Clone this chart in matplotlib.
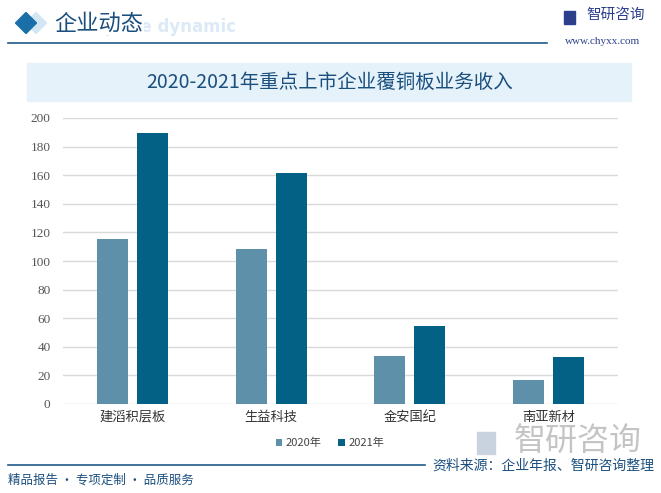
import numpy as np
import matplotlib.pyplot as plt
from matplotlib.patches import Rectangle, Polygon

plt.rcParams['font.family'] = ['Noto Sans CJK SC', 'DejaVu Sans']

companies = ['建滔积层板', '生益科技', '金安国纪', '南亚新材']
rev_2020 = [115.5, 108.5, 33.6, 16.8]
rev_2021 = [189.5, 161.5, 54.8, 32.9]
years = ['2020年', '2021年']
yticks = [0, 20, 40, 60, 80, 100, 120, 140, 160, 180, 200]

c2020 = '#5e91a9'
c2021 = '#036185'
dark_blue = '#1b4f7e'

fig = plt.figure(figsize=(6.61, 4.93), dpi=100)
W, H = 661, 493

def fx(px):
    return px / W

def fy(py):
    return 1 - py / H

def diamond(cx, cy, r, color):
    pts = [[fx(cx - r), fy(cy)], [fx(cx), fy(cy - r)], [fx(cx + r), fy(cy)], [fx(cx), fy(cy + r)]]
    fig.patches.append(Polygon(pts, closed=True, transform=fig.transFigure, color=color))

# header
diamond(36, 23, 10.5, '#d3e6f4')
diamond(26, 23, 10.5, '#1a6fa8')
fig.text(fx(236), fy(27), 'Enterprise dynamic', fontsize=12, color='#dbeaf6', weight='bold',
         ha='right', va='center', family='DejaVu Sans')
fig.text(fx(54), fy(23), '企业动态', fontsize=16, color=dark_blue, ha='left', va='center',
         bbox=dict(facecolor='white', edgecolor='none', pad=0.5))
fig.add_artist(plt.Line2D([fx(8), fx(547)], [fy(43), fy(43)], color='#1f5b8c', lw=1.2))
fig.patches.append(Rectangle((fx(564), fy(24)), fx(11), 13 / H, transform=fig.transFigure,
                             color='#2b3f8c'))
fig.text(fx(586), fy(15), '智研咨询', fontsize=10.5, color='#2b3f8c', ha='left', va='center')
fig.text(fx(565), fy(42), 'www.chyxx.com', fontsize=8, color='#2b3f8c', ha='left', va='center',
         family='Liberation Serif')

# title band
fig.patches.append(Rectangle((fx(27), fy(101)), fx(604), 38 / H, transform=fig.transFigure,
                             color='#e6f2fa', zorder=0))
fig.text(fx(330), fy(82), '2020-2021年重点上市企业覆铜板业务收入', fontsize=14,
         color=dark_blue, ha='center', va='center')

# chart
ax = fig.add_axes([fx(63), fy(404), fx(555), 286 / H])
x = np.arange(len(companies))
bw = 0.223
off = 0.144
ax.bar(x - off, rev_2020, bw, color=c2020, label=years[0], zorder=3)
ax.bar(x + off, rev_2021, bw, color=c2021, label=years[1], zorder=3)
ax.set_xlim(-0.5, 3.5)
ax.set_ylim(0, 200)
ax.set_yticks(yticks)
ax.set_yticklabels([str(v) for v in yticks], family='Liberation Serif', fontsize=9.5, color='#555555')
ax.set_xticks(x)
ax.set_xticklabels(companies, fontsize=9.5, color='#333333')
ax.tick_params(length=0, pad=9)
ax.tick_params(axis='x', pad=5)
ax.grid(axis='y', color='#d9d9d9', lw=1, zorder=0)
for s in ax.spines.values():
    s.set_visible(False)
ax.patch.set_alpha(0)

leg = fig.legend(loc='center', bbox_to_anchor=(fx(330), fy(443)), ncol=2, frameon=False,
                 fontsize=8, handlelength=0.6, handleheight=0.6, handletextpad=0.3,
                 columnspacing=1.5, labelcolor='#444444')

# footer
fig.patches.append(Rectangle((fx(477), fy(454)), fx(18), 22 / H, transform=fig.transFigure,
                             color='#c9d3e0', zorder=0))
fig.text(fx(578), fy(441), '智研咨询', fontsize=23, color='#c4c4c4', ha='center', va='center',
         zorder=0)
fig.add_artist(plt.Line2D([fx(8), fx(425)], [fy(465), fy(465)], color='#1f5b8c', lw=1.2))
fig.text(fx(8), fy(480), '精品报告 · 专项定制 · 品质服务', fontsize=9, color=dark_blue,
         ha='left', va='center')
fig.text(fx(654), fy(466), '资料来源：企业年报、智研咨询整理', fontsize=10, color=dark_blue,
         ha='right', va='center')

fig.savefig('out.png', dpi=100)
